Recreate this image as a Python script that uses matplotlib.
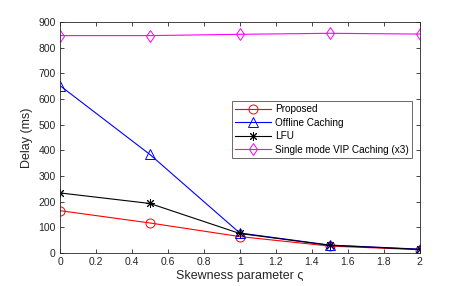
import matplotlib
matplotlib.use("Agg")
import matplotlib.pyplot as plt

skew = [0, 0.5, 1, 1.5, 2]
proposed = [165, 117, 64, 27, 13]
offline = [652, 384, 78, 31, 15]
lfu = [234, 193, 76, 30, 14]
vip = [847, 847, 852, 856, 853]

xticks = [0, 0.2, 0.4, 0.6, 0.8, 1, 1.2, 1.4, 1.6, 1.8, 2]
xticklabels = ["0", "0.2", "0.4", "0.6", "0.8", "1", "1.2", "1.4", "1.6", "1.8", "2"]
yticks = [0, 100, 200, 300, 400, 500, 600, 700, 800, 900]

plt.rcParams['font.family'] = ['Liberation Sans', 'DejaVu Sans']
axcol = '#262626'

fig = plt.figure(figsize=(4.63, 2.86), dpi=100)
ax = fig.add_axes([60/463, 1-253/286, (419.5-60)/463, (253-22)/286])

lw = 0.8
ms = 6.5
ax.plot(skew, proposed, color='red', lw=lw, marker='o', ms=ms, mfc='none', mew=0.7, label='Proposed')
ax.plot(skew, offline, color='blue', lw=lw, marker='^', ms=ms, mfc='none', mew=0.7, label='Offline Caching')
ax.plot(skew, lfu, color='black', lw=lw, marker=(8, 2, 0), ms=ms, mew=0.7, label='LFU')
ax.plot(skew, vip, color='magenta', lw=lw, marker='d', ms=ms, mfc='none', mew=0.7, label='Single mode VIP Caching (x3)')

ax.set_xlim(0, 2)
ax.set_ylim(0, 900)
ax.set_xticks(xticks)
ax.set_xticklabels(xticklabels)
ax.set_yticks(yticks)
ax.tick_params(direction='in', top=True, right=True, labelsize=7.5, colors=axcol, length=3, width=0.6, pad=3)
for s in ax.spines.values():
    s.set_color(axcol)
    s.set_linewidth(0.6)

ax.set_xlabel('Skewness parameter ς', fontsize=9, color=axcol, labelpad=2)
ax.set_ylabel('Delay (ms)', fontsize=9, color=axcol, labelpad=4)

leg = ax.legend(loc='upper left', bbox_to_anchor=((232-60)/(419.5-60), 1-(101-22)/231),
                fontsize=7.2, frameon=True, fancybox=False, borderpad=0.3, labelspacing=0.35,
                handlelength=3.6, handletextpad=0.4, borderaxespad=0)
leg.get_frame().set_edgecolor(axcol)
leg.get_frame().set_linewidth(0.6)

fig.savefig('out.png', dpi=100)
